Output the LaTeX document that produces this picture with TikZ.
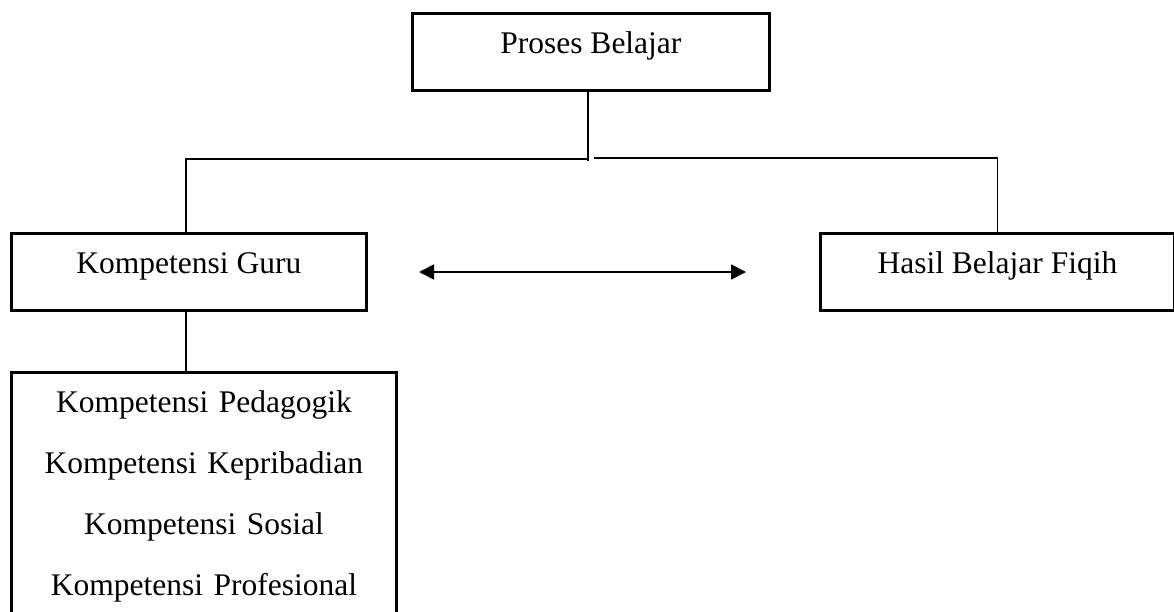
\documentclass[tikz,border=0pt]{standalone}
\usepackage{fontspec}
\setmainfont{Liberation Serif}
\usetikzlibrary{arrows.meta}
\begin{document}
\begin{tikzpicture}[x=1pt,y=-1pt,
  box/.style={draw, line width=2.8pt, inner sep=0pt, text height=40pt, text depth=37pt,
              font=\fontsize{31.5}{36}\selectfont, anchor=north west},
  conn/.style={line width=1.4pt},
  dblarrow/.style={line width=1.6pt, {Triangle[length=15pt,width=15pt]}-{Triangle[length=15pt,width=15pt]}}]
\useasboundingbox (0,0) rectangle (1174,612);
\clip (0,0) rectangle (1174,612);
\node[box, minimum width=357pt] (proses) at (411,12) {Proses Belajar};
\node[box, minimum width=355pt] (guru) at (10,232) {Kompetensi Guru};
\node[box, minimum width=354pt] (hasil) at (819,232) {Hasil Belajar Fiqih};
\node[draw, line width=2.8pt, anchor=north west, minimum width=385pt, text width=385pt,
      inner xsep=0pt, inner ysep=18pt, align=center, font=\fontsize{31.5}{61}\selectfont]
  (komp) at (10,371) {Kompetensi Pedagogik\\Kompetensi Kepribadian\\Kompetensi Sosial\\Kompetensi Profesional};
\coordinate (jl) at (588,159);
\coordinate (jr) at (594,158);
\coordinate (jb) at (588,161);
\draw[conn] (proses.south -| jb) -- (jb);
\draw[conn] (jl) -| ([xshift=-3pt]guru.north);
\draw[conn] (jr) -| (hasil.north);
\draw[conn] ([xshift=-3pt]guru.south) -- ([xshift=-3pt]guru.south |- komp.north);
\coordinate (al) at (419,272);
\coordinate (ar) at (746,272);
\draw[dblarrow] (al) -- (ar);
\end{tikzpicture}
\end{document}
